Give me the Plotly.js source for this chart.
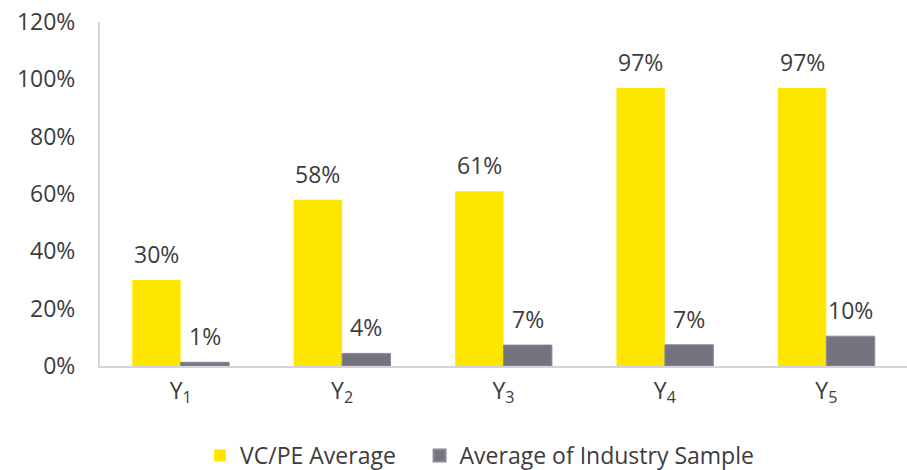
<!DOCTYPE html>
<html>
<head>
<meta charset="utf-8">
<script src="https://cdn.plot.ly/plotly-3.0.1.min.js"></script>
<style>html,body{margin:0;padding:0;background:#fff;}#chart{width:907px;height:470px;}</style>
</head>
<body>
<div id="chart"></div>
<script>
const categories = ["Y<sub>1</sub>", "Y<sub>2</sub>", "Y<sub>3</sub>", "Y<sub>4</sub>", "Y<sub>5</sub>"];
const vcpeAverage = [0.30, 0.58, 0.61, 0.97, 0.97];
const industryAverage = [0.013, 0.044, 0.073, 0.074, 0.104];
const seriesNames = ["VC/PE Average", "Average of Industry Sample"];
const yTickVals = [0, 0.2, 0.4, 0.6, 0.8, 1.0, 1.2];
const yTickText = ["0%", "20%", "40%", "60%", "80%", "100%", "120%"];

const fontFam = '"Open Sans", "Noto Sans", sans-serif';
const textColor = '#3c3c3c';
const fs = 23;

const W = 907, H = 470, ML = 100, MR = 0, MT = 22, MB = 104;
const bargap = 0.4;
const catWidth = (W - ML - MR) / categories.length;
const barW = catWidth * (1 - bargap) / 2;

const traces = [
  {
    type: 'bar', name: seriesNames[0], x: categories, y: vcpeAverage,
    marker: {color: '#FFE600'}, hoverinfo: 'none', legend: 'legend'
  },
  {
    type: 'bar', name: seriesNames[1], x: categories, y: industryAverage,
    marker: {color: '#747480', line: {color: '#8a8a96', width: 1}}, hoverinfo: 'none', legend: 'legend2'
  }
];

const fmt = v => Math.round(v * 100) + '%';
const annotations = [];
[vcpeAverage, industryAverage].forEach((series, si) => {
  series.forEach((v, i) => {
    annotations.push({
      x: categories[i], y: v, xref: 'x', yref: 'y',
      text: fmt(v), showarrow: false,
      xanchor: 'center', yanchor: 'bottom',
      xshift: (si === 0 ? -1 : 1) * barW / 2, yshift: 8,
      font: {family: fontFam, size: fs, color: textColor}
    });
  });
});

const legendBase = {
  orientation: 'h', xanchor: 'left', y: -0.26, yanchor: 'middle',
  font: {family: fontFam, size: fs, color: textColor},
  itemsizing: 'constant', itemwidth: 30, bgcolor: 'rgba(0,0,0,0)'
};

const layout = {
  width: W, height: H,
  margin: {l: ML, r: MR, t: MT, b: MB, autoexpand: false},
  paper_bgcolor: '#ffffff', plot_bgcolor: '#ffffff',
  font: {family: fontFam, size: fs, color: textColor},
  barmode: 'group', bargap: bargap, bargroupgap: 0,
  showlegend: true,
  annotations: annotations,
  legend: Object.assign({}, legendBase, {x: 0.124}),
  legend2: Object.assign({}, legendBase, {x: 0.396}),
  xaxis: {
    showgrid: false, showline: true, linecolor: '#d4d4dc', linewidth: 2,
    ticks: '', ticklabelstandoff: 3, tickfont: {family: fontFam, size: fs, color: textColor},
    zeroline: false, fixedrange: true
  },
  yaxis: {
    range: [0, 1.2], tickvals: yTickVals, ticktext: yTickText,
    showgrid: false, showline: true, linecolor: '#d4d4dc', linewidth: 2,
    ticks: '', ticklabelstandoff: 18,
    tickfont: {family: fontFam, size: fs, color: textColor},
    zeroline: false, fixedrange: true
  }
};

Plotly.newPlot('chart', traces, layout, {displayModeBar: false, staticPlot: true});
</script>
</body>
</html>
